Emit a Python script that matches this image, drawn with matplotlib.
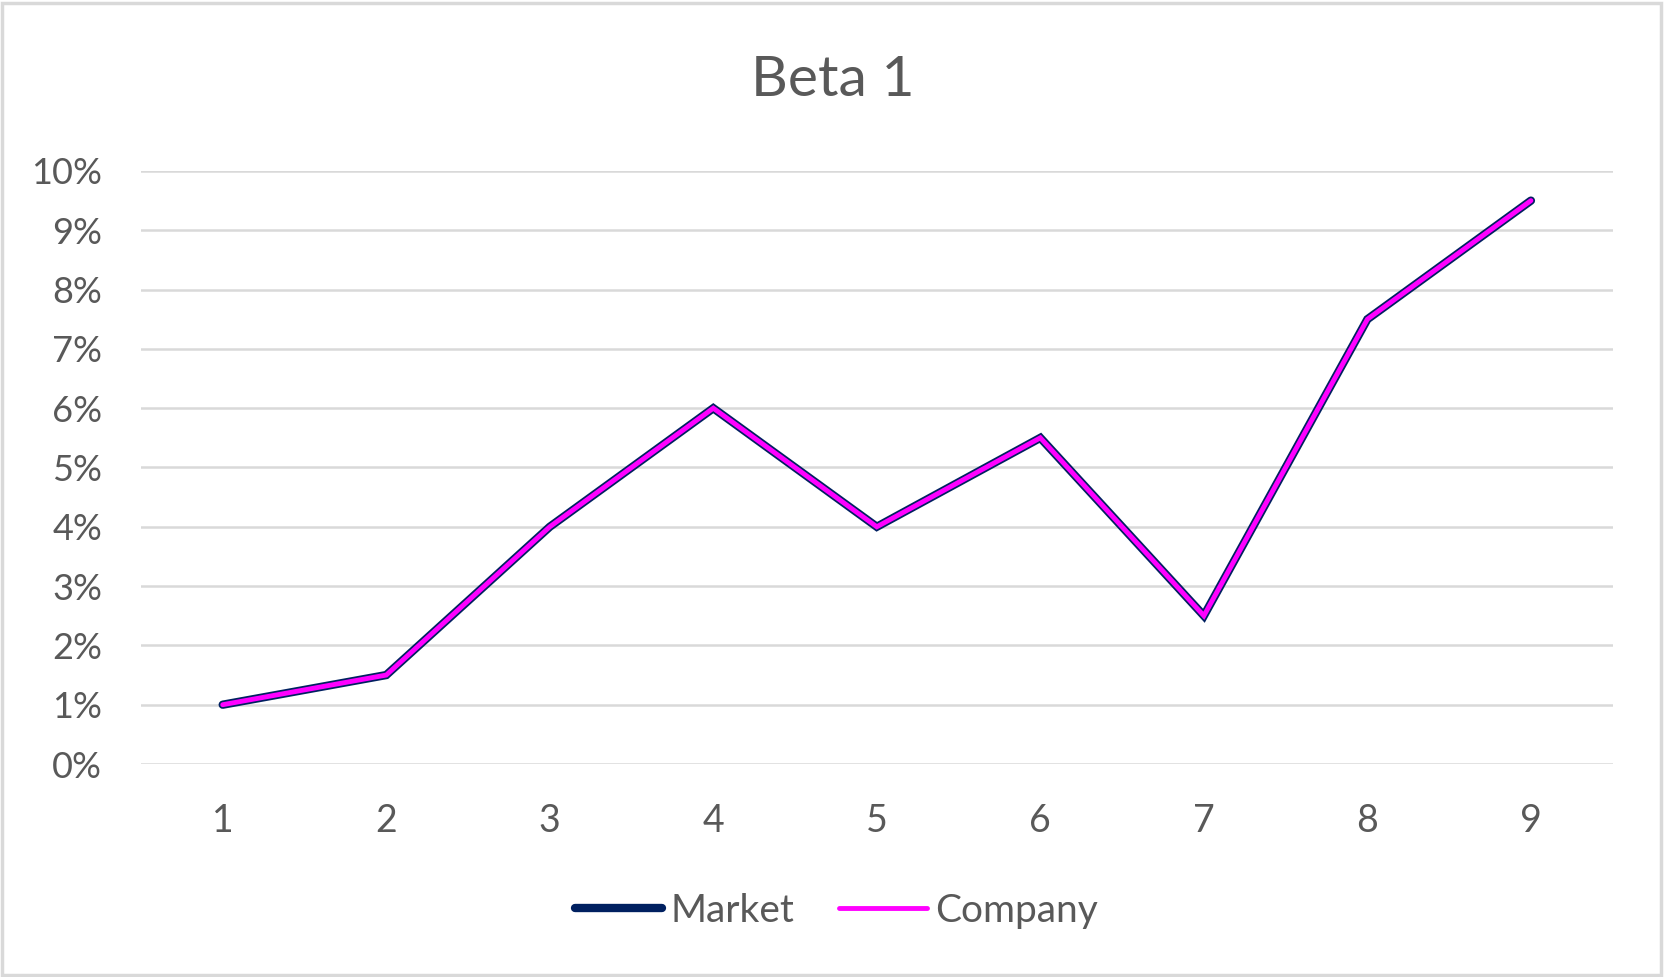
import matplotlib
matplotlib.use("Agg")
import matplotlib.pyplot as plt
from matplotlib.patches import Rectangle
from matplotlib.ticker import PercentFormatter

# data (percent)
periods = [1, 2, 3, 4, 5, 6, 7, 8, 9]
market = [1.0, 1.5, 4.0, 6.0, 4.0, 5.5, 2.5, 7.5, 9.5]
company = [1.0, 1.5, 4.0, 6.0, 4.0, 5.5, 2.5, 7.5, 9.5]
y_ticks = [0, 1, 2, 3, 4, 5, 6, 7, 8, 9, 10]

text_grey = "#595959"
grid_grey = "#D9D9D9"

plt.rcParams["font.family"] = ["Lato", "DejaVu Sans"]

fig = plt.figure(figsize=(16.66, 9.77), dpi=100)
ax = fig.add_axes([0.0846, 0.218, 0.968 - 0.0846, 0.825 - 0.218])

ax.plot(periods, market, color="#002060", lw=6, solid_capstyle="round",
        solid_joinstyle="miter", label="Market", zorder=3)
ax.plot(periods, company, color="#FF00FF", lw=3.5, solid_capstyle="round",
        solid_joinstyle="miter", label="Company", zorder=4)

ax.set_xlim(0.5, 9.5)
ax.set_ylim(0, 10)
ax.set_xticks(periods)
ax.set_yticks(y_ticks)
ax.yaxis.set_major_formatter(PercentFormatter(decimals=0))
ax.grid(axis="y", color=grid_grey, lw=1.8)
ax.set_axisbelow(True)
for s in ["top", "right", "left", "bottom"]:
    ax.spines[s].set_visible(False)
ax.tick_params(axis="both", length=0, labelsize=26, colors=text_grey)
ax.tick_params(axis="x", pad=28, labelsize=27)
ax.tick_params(axis="y", pad=28)

fig.text(0.5, 0.918, "Beta 1", ha="center", va="center", fontsize=41, color=text_grey)

fig.legend(loc="center", bbox_to_anchor=(0.502, 0.068), ncol=2, frameon=False,
           fontsize=28, labelcolor=text_grey, handlelength=2.25, handletextpad=0.22,
           columnspacing=1.15)

# light grey chart border
fig.patches.append(Rectangle((0.001, 0.002), 0.996, 0.995, transform=fig.transFigure,
                             fill=False, edgecolor=grid_grey, lw=2.5))

fig.savefig("out.png", dpi=100, facecolor="white")
